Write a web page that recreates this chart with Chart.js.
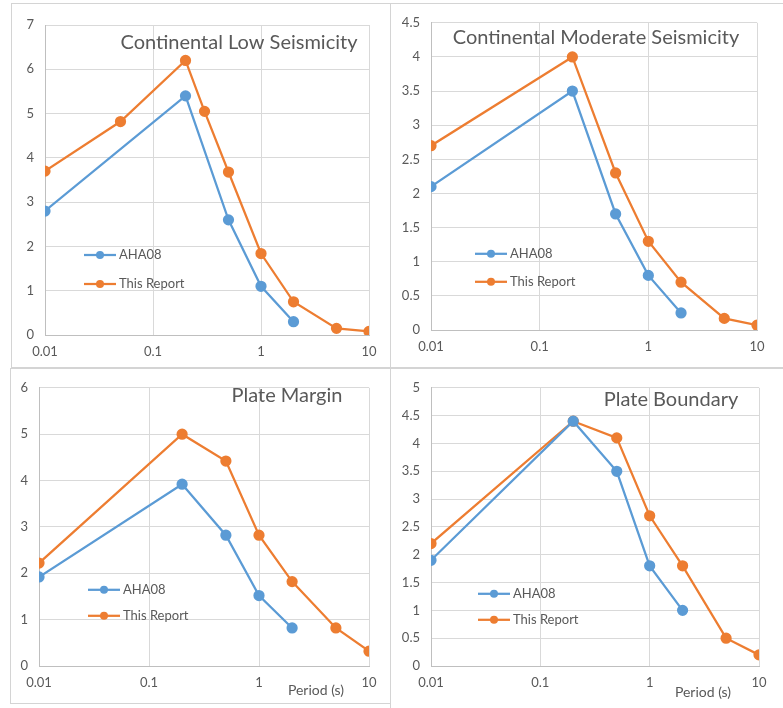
<!DOCTYPE html>
<html>
<head>
<meta charset="utf-8">
<script src="https://cdn.jsdelivr.net/npm/chart.js@4.4.0/dist/chart.umd.min.js"></script>
<style>
    body { margin: 0; width: 783px; height: 708px; position: relative; overflow: hidden; background: #fff; font-family: Lato, sans-serif; }
    .panel { position: absolute; box-sizing: border-box; border: 1px solid #d4d4d4; background: #fff; }
</style>
</head>
<body>
<div class="panel" style="left:11px;top:3px;width:380px;height:365px"><canvas id="chart-low"></canvas></div>
<div class="panel" style="left:390px;top:3px;width:395px;height:365px"><canvas id="chart-moderate"></canvas></div>
<div class="panel" style="left:10px;top:368px;width:381px;height:336px"><canvas id="chart-margin"></canvas></div>
<div class="panel" style="left:390px;top:368px;width:395px;height:342px"><canvas id="chart-boundary"></canvas></div>

<script>
// ====== DATA ======
const xTicks = [0.01, 0.1, 1, 10];
const xTickLabels = ['0.01', '0.1', '1', '10'];

const periodsAha = [0.01, 0.2, 0.5, 1, 2];
const periodsLowReport = [0.01, 0.05, 0.2, 0.3, 0.5, 1, 2, 5, 10];
const periodsReport = [0.01, 0.2, 0.5, 1, 2, 5, 10];

const lowAha = [2.8, 5.4, 2.6, 1.1, 0.3];
const lowReport = [3.7, 4.82, 6.2, 5.05, 3.68, 1.84, 0.75, 0.15, 0.08];

const moderateAha = [2.1, 3.5, 1.7, 0.8, 0.25];
const moderateReport = [2.7, 4.0, 2.3, 1.3, 0.7, 0.17, 0.07];

const marginAha = [1.92, 3.92, 2.82, 1.52, 0.82];
const marginReport = [2.22, 5.0, 4.42, 2.82, 1.82, 0.82, 0.32];

const boundaryAha = [1.9, 4.4, 3.5, 1.8, 1.0];
const boundaryReport = [2.2, 4.4, 4.1, 2.7, 1.8, 0.5, 0.2];

const seriesNames = ['AHA08', 'This Report'];
const blue = '#5b9bd5';
const orange = '#ed7d31';
const textGray = '#595959';
const gridGray = '#d9d9d9';

const X_H = 26;  // fixed x axis height

// draws the in-plot title, the legend and the "Period (s)" label
const panelDecor = {
    id: 'panelDecor',
    afterDraw(chart) {
        const o = chart.options.plugins.panelDecor;
        const a = chart.chartArea;
        const ctx = chart.ctx;
        ctx.save();
        ctx.fillStyle = textGray;
        ctx.textBaseline = 'middle';

        ctx.font = '20px Lato';
        ctx.textAlign = 'center';
        ctx.fillText(o.title, a.left + o.titleX, a.top + o.titleY);

        ctx.font = '13px Lato';
        ctx.textAlign = 'left';
        chart.data.datasets.forEach((ds, i) => {
            const lx = a.left + o.legendX;
            const ly = a.top + o.legendY + i * o.legendGap;
            ctx.strokeStyle = ds.borderColor;
            ctx.lineWidth = 2.25;
            ctx.beginPath();
            ctx.moveTo(lx, ly);
            ctx.lineTo(lx + 32, ly);
            ctx.stroke();
            ctx.fillStyle = ds.borderColor;
            ctx.beginPath();
            ctx.arc(lx + 16, ly, 4, 0, Math.PI * 2);
            ctx.fill();
            ctx.fillStyle = textGray;
            ctx.fillText(ds.label, lx + 35, ly);
        });

        if (o.axisLabel) {
            ctx.font = '14px Lato';
            ctx.textAlign = 'center';
            ctx.fillText(o.axisLabel, a.left + o.axisX, a.bottom + o.axisY);
        }
        ctx.restore();
    }
};

function pairs(xs, ys) {
    return xs.map((x, i) => ({ x: x, y: ys[i] }));
}

function makeChart(id, box, area, yMax, yStep, ahaX, ahaY, repX, repY, decor) {
    const inner = { x: box.x + 1, y: box.y + 1, w: box.w - 2, h: box.h - 2 };
    const yWidth = area.l - inner.x;  // y axis takes the whole left margin
    const padding = {
        left: 0,
        top: area.t - inner.y,
        right: inner.x + inner.w - area.r,
        bottom: inner.y + inner.h - area.b - X_H
    };
    const lineStyle = color => ({
        borderColor: color,
        backgroundColor: color,
        borderWidth: 2.25,
        pointRadius: 4.5,
        pointBackgroundColor: color,
        pointBorderColor: color,
        tension: 0,
        fill: false
    });
    new Chart(document.getElementById(id), {
        type: 'line',
        data: {
            datasets: [
                Object.assign({ label: seriesNames[0], data: pairs(ahaX, ahaY) }, lineStyle(blue)),
                Object.assign({ label: seriesNames[1], data: pairs(repX, repY) }, lineStyle(orange))
            ]
        },
        options: {
            responsive: true,
            maintainAspectRatio: false,
            animation: false,
            layout: { padding: padding },
            plugins: {
                legend: { display: false },
                tooltip: { enabled: false },
                panelDecor: decor
            },
            scales: {
                x: {
                    type: 'logarithmic',
                    min: 0.01,
                    max: 10,
                    afterBuildTicks: s => { s.ticks = xTicks.map(v => ({ value: v })); },
                    afterFit: s => { s.height = X_H; },
                    grid: { color: gridGray, drawTicks: false },
                    border: { color: '#bfbfbf' },
                    ticks: {
                        autoSkip: false,
                        maxRotation: 0,
                        padding: 9,
                        color: textGray,
                        font: { family: 'Lato', size: 13 },
                        callback: v => xTickLabels[xTicks.indexOf(v)]
                    }
                },
                y: {
                    min: 0,
                    max: yMax,
                    afterFit: s => { s.width = yWidth; },
                    grid: { color: gridGray, drawTicks: false },
                    border: { color: '#bfbfbf' },
                    ticks: {
                        stepSize: yStep,
                        padding: 11,
                        color: textGray,
                        font: { family: 'Lato', size: 13 },
                        callback: v => String(v)
                    }
                }
            }
        },
        plugins: [panelDecor]
    });
}

makeChart('chart-low',
    { x: 11, y: 3, w: 380, h: 365 }, { l: 45, t: 25, r: 369, b: 335 },
    7, 1, periodsAha, lowAha, periodsLowReport, lowReport,
    { title: 'Continental Low Seismicity', titleX: 194, titleY: 18, legendX: 39, legendY: 230, legendGap: 29 });

makeChart('chart-moderate',
    { x: 390, y: 3, w: 395, h: 365 }, { l: 431, t: 21, r: 757, b: 330 },
    4.5, 0.5, periodsAha, moderateAha, periodsReport, moderateReport,
    { title: 'Continental Moderate Seismicity', titleX: 165, titleY: 15, legendX: 44, legendY: 231, legendGap: 28 });

makeChart('chart-margin',
    { x: 10, y: 368, w: 381, h: 336 }, { l: 39, t: 384, r: 369, b: 666 },
    6, 1, periodsAha, marginAha, periodsReport, marginReport,
    { title: 'Plate Margin', titleX: 248, titleY: 8, legendX: 49, legendY: 202, legendGap: 26,
      axisLabel: 'Period (s)', axisX: 277, axisY: 24 });

makeChart('chart-boundary',
    { x: 390, y: 368, w: 395, h: 342 }, { l: 431, t: 381, r: 759, b: 666 },
    5, 0.5, periodsAha, boundaryAha, periodsReport, boundaryReport,
    { title: 'Plate Boundary', titleX: 240, titleY: 12, legendX: 47, legendY: 206, legendGap: 26,
      axisLabel: 'Period (s)', axisX: 272, axisY: 26 });
</script>
</body>
</html>
